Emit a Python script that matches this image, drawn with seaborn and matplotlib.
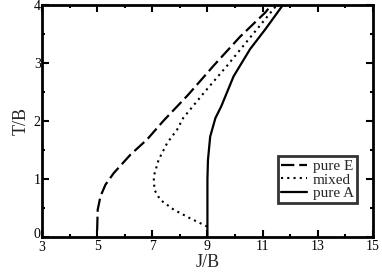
import numpy as np
import pandas as pd
import seaborn as sns
import matplotlib.pyplot as plt
from matplotlib.ticker import FixedLocator
from matplotlib.transforms import ScaledTranslation

sns.set_style('ticks')
plt.rcParams['font.family'] = ['Liberation Serif', 'DejaVu Serif']

# phase boundaries (J/B, T/B)
pureE_J = [5.0, 5.02, 5.12, 5.30, 5.60, 6.21, 6.81, 7.40, 8.30, 9.22, 10.18, 11.10, 11.32]
pureE_T = [0.12, 0.47, 0.70, 0.90, 1.10, 1.42, 1.68, 2.0, 2.45, 2.95, 3.45, 3.87, 4.0]

mixed_J = [8.99, 8.38, 7.78, 7.29, 7.08, 7.05, 7.23, 7.54, 7.90, 8.12, 8.90, 9.71, 10.57, 11.40, 11.52]
mixed_T = [0.18, 0.32, 0.47, 0.64, 0.81, 1.04, 1.33, 1.62, 1.85, 2.05, 2.50, 2.95, 3.45, 3.93, 4.0]

pureA_J = [9.0, 9.0, 9.02, 9.1, 9.29, 9.5, 9.95, 10.55, 11.1, 11.74]
pureA_T = [0.0, 1.0, 1.33, 1.73, 2.05, 2.25, 2.77, 3.24, 3.58, 4.0]

x_major = [3, 5, 7, 9, 11, 13, 15]
x_minor = [4, 6, 8, 10, 12, 14]
y_major = [0, 1, 2, 3, 4]
y_minor = [0.5, 1.5, 2.5, 3.5]

dash_E = [6, 2.2]
dot_mixed = [1, 2]

fig = plt.figure(figsize=(3.82, 2.73), dpi=100)
ax = fig.add_axes([0.110, 0.132, 0.866, 0.850])

sns.lineplot(x=pureE_J, y=pureE_T, sort=False, estimator=None, ax=ax, color='black',
             lw=1.6, label='pure E').lines[-1].set_dashes(dash_E)
sns.lineplot(x=mixed_J, y=mixed_T, sort=False, estimator=None, ax=ax, color='black',
             lw=1.5, label='mixed').lines[-1].set_dashes(dot_mixed)
sns.lineplot(x=pureA_J, y=pureA_T, sort=False, estimator=None, ax=ax, color='black',
             lw=1.6, label='pure A')

ax.set_xlim(3, 15)
ax.set_ylim(0, 4)
ax.xaxis.set_major_locator(FixedLocator(x_major))
ax.xaxis.set_minor_locator(FixedLocator(x_minor))
ax.yaxis.set_major_locator(FixedLocator(y_major))
ax.yaxis.set_minor_locator(FixedLocator(y_minor))
ax.tick_params(which='both', direction='in', top=True, right=True, colors='black', labelsize=10)
ax.tick_params(axis='y', pad=1)
ax.tick_params(axis='x', pad=2)
ax.tick_params(which='major', length=5, width=1.5)
ax.tick_params(which='minor', length=2.5, width=1.5)
for s in ax.spines.values():
    s.set_linewidth(2)
    s.set_color('black')

# the corner labels sit apart: "0" a bit up, "3" a bit down
ylab0 = ax.yaxis.get_majorticklabels()[0]
ylab0.set_transform(ylab0.get_transform() + ScaledTranslation(0, 2.5 / 72, fig.dpi_scale_trans))
xlab0 = ax.xaxis.get_majorticklabels()[0]
xlab0.set_transform(xlab0.get_transform() + ScaledTranslation(0, -1 / 72, fig.dpi_scale_trans))

ax.set_xlabel('J/B', fontsize=13, labelpad=0)
ax.set_ylabel('T/B', fontsize=13, labelpad=3)

leg = ax.legend(loc='lower right', bbox_to_anchor=(0.952, 0.145), fontsize=11, frameon=True,
                fancybox=False, edgecolor='black', handlelength=1.7, handletextpad=0.4,
                borderpad=0.2, labelspacing=0.0, borderaxespad=0)
leg.get_frame().set_linewidth(2)
leg.get_lines()[0].set_dashes(dash_E)
leg.get_lines()[1].set_dashes(dot_mixed)

fig.savefig('out.png', dpi=100)
